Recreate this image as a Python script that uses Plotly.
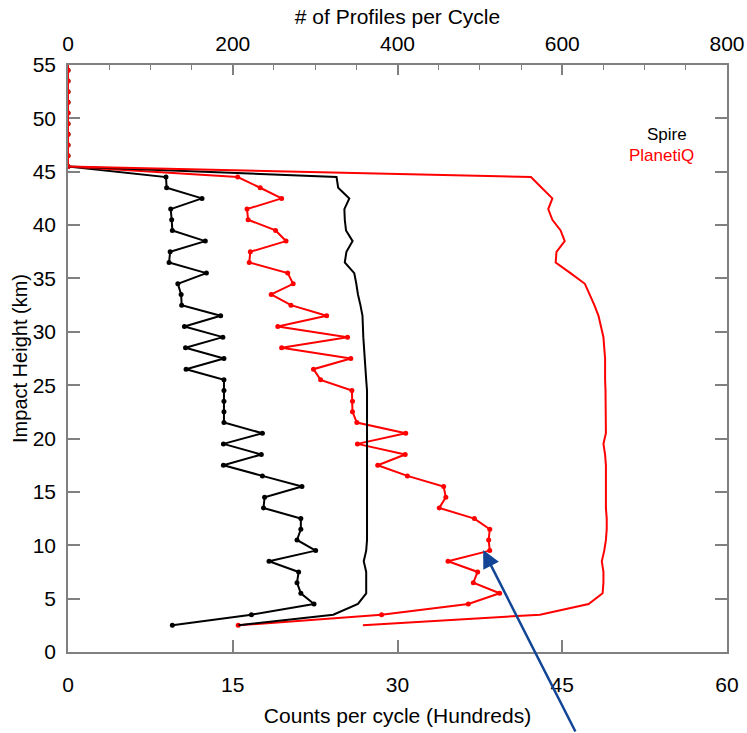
import plotly.graph_objects as go

# Impact heights (km), shared by all series
heights = [2.5, 3.5, 4.5, 5.5, 6.5, 7.5, 8.5, 9.5, 10.5, 11.5,
           12.5, 13.5, 14.5, 15.5, 16.5, 17.5, 18.5, 19.5, 20.5, 21.5,
           22.5, 23.5, 24.5, 25.5, 26.5, 27.5, 28.5, 29.5, 30.5, 31.5,
           32.5, 33.5, 34.5, 35.5, 36.5, 37.5, 38.5, 39.5, 40.5, 41.5,
           42.5, 43.5, 44.5, 45.5, 46.5, 47.5, 48.5, 49.5, 50.5, 51.5,
           52.5, 53.5, 54.5, 55.5]

# Counts per cycle (hundreds) - bottom axis
spire_counts = [9.5, 16.7, 22.4, 21.2, 20.85, 21.0, 18.3, 22.55, 20.85, 21.2,
                21.2, 17.8, 17.9, 21.3, 17.7, 14.15, 17.6, 14.15, 17.7, 14.2,
                14.2, 14.2, 14.2, 14.2, 10.75, 14.2, 10.7, 14.1, 10.6, 13.9,
                10.35, 10.3, 10.0, 12.6, 9.2, 9.3, 12.5, 9.5, 9.44, 9.35,
                12.2, 8.98, 8.92, 0, 0, 0, 0, 0, 0, 0,
                0, 0, 0, 0]
planetiq_counts = [15.5, 28.55, 36.45, 39.3, 36.9, 37.3, 34.6, 38.4, 38.3, 38.4,
                   37.0, 33.8, 34.4, 34.2, 30.9, 28.2, 30.7, 26.35, 30.75, 26.3,
                   25.9, 25.9, 25.85, 23.0, 22.35, 25.75, 19.45, 25.45, 19.1, 23.55,
                   20.3, 18.5, 20.5, 20.0, 16.5, 16.6, 19.85, 18.9, 16.4, 16.3,
                   19.45, 17.5, 15.45, 0, 0, 0, 0, 0, 0, 0,
                   0, 0, 0, 0]

# Number of profiles per cycle - top axis
spire_profiles = [207, 322, 352, 362, 362, 362, 359, 362, 363, 363,
                  363, 363, 363, 363, 363, 363, 363, 363, 363, 363,
                  363, 363, 363, 362, 361, 360.5, 359, 358.5, 358, 357.5,
                  355, 352, 350, 347.5, 336, 338, 345.5, 337.5, 336, 335.5,
                  341.5, 328, 326, 0, 0, 0, 0, 0, 0, 0,
                  0, 0, 0, 0]
planetiq_profiles = [358, 573, 632, 649, 650, 650, 648, 651, 653, 654,
                     654, 653, 653, 653, 653, 653, 652, 650, 653, 653,
                     653, 652.5, 652.5, 652, 652, 652, 651, 650, 647, 644,
                     639, 633, 627.5, 610, 592, 593, 603, 598, 588, 583,
                     588, 575, 562, 0, 0, 0, 0, 0, 0, 0,
                     0, 0, 0, 0]

BLACK = "#000000"
RED = "#ff0000"
AXIS = "#808080"
FAMILY = "Liberation Sans, Arial, sans-serif"

fig = go.Figure()
fig.add_trace(go.Scatter(x=spire_profiles, y=heights, mode="lines", xaxis="x2", yaxis="y",
                         line=dict(color=BLACK, width=2), name="Spire profiles"))
fig.add_trace(go.Scatter(x=spire_counts, y=heights, mode="lines+markers",
                         line=dict(color=BLACK, width=2), marker=dict(color=BLACK, size=5),
                         name="Spire counts"))
fig.add_trace(go.Scatter(x=planetiq_profiles, y=heights, mode="lines", xaxis="x2", yaxis="y",
                         line=dict(color=RED, width=2), name="PlanetiQ profiles"))
fig.add_trace(go.Scatter(x=planetiq_counts, y=heights, mode="lines+markers",
                         line=dict(color=RED, width=2), marker=dict(color=RED, size=5),
                         name="PlanetiQ counts"))

tickfont = dict(family=FAMILY, size=21, color="black")

fig.update_layout(
    width=747, height=733,
    margin=dict(l=68, r=20, t=65, b=81),
    plot_bgcolor="white", paper_bgcolor="white",
    showlegend=False,
    font=dict(family=FAMILY, color="black"),
    xaxis=dict(range=[0, 60], tick0=0, dtick=15, ticks="inside", ticklen=12,
               tickcolor=AXIS, tickwidth=1.5, showline=True, linecolor=AXIS,
               linewidth=1.5, mirror=True, showgrid=False, zeroline=False,
               tickfont=tickfont, ticklabelstandoff=13, layer="below traces",
               automargin=False,
               title=dict(text="Counts per cycle (Hundreds)",
                          font=dict(family=FAMILY, size=21, color="black"), standoff=13)),
    xaxis2=dict(range=[0, 800], tick0=0, dtick=200, overlaying="x", side="top",
                ticks="inside", ticklen=10, tickcolor=AXIS, tickwidth=1.5,
                minor=dict(dtick=50, ticks="inside", ticklen=5, tickcolor=AXIS, tickwidth=1.2),
                showline=False, showgrid=False, zeroline=False, tickfont=tickfont,
                ticklabelstandoff=9, layer="below traces", automargin=False,
                title=dict(text="# of Profiles per Cycle",
                           font=dict(family=FAMILY, size=21, color="black"), standoff=1)),
    yaxis=dict(range=[0, 55], tick0=0, dtick=5, ticks="inside", ticklen=12,
               tickcolor=AXIS, tickwidth=1.5, showline=True, linecolor=AXIS,
               linewidth=1.5, mirror="ticks", showgrid=False, zeroline=False,
               tickfont=tickfont, ticklabelstandoff=6, layer="below traces",
               automargin=False,
               title=dict(text="Impact Height (km)",
                          font=dict(family=FAMILY, size=20, color="black"), standoff=0)),
    annotations=[
        dict(text="Spire", xref="paper", yref="paper", x=0.909, y=0.882,
             showarrow=False, font=dict(family=FAMILY, size=17, color=BLACK),
             xanchor="center", yanchor="middle"),
        dict(text="PlanetiQ", xref="paper", yref="paper", x=0.901, y=0.846,
             showarrow=False, font=dict(family=FAMILY, size=17, color=RED),
             xanchor="center", yanchor="middle"),
        dict(text="", x=37.8, y=9.55, xref="x", yref="y", showarrow=True,
             ax=93, ay=186, arrowhead=2, arrowsize=1.4, arrowwidth=2.5,
             arrowcolor="#124596", standoff=0),
    ],
)

fig.write_html("out.html")
